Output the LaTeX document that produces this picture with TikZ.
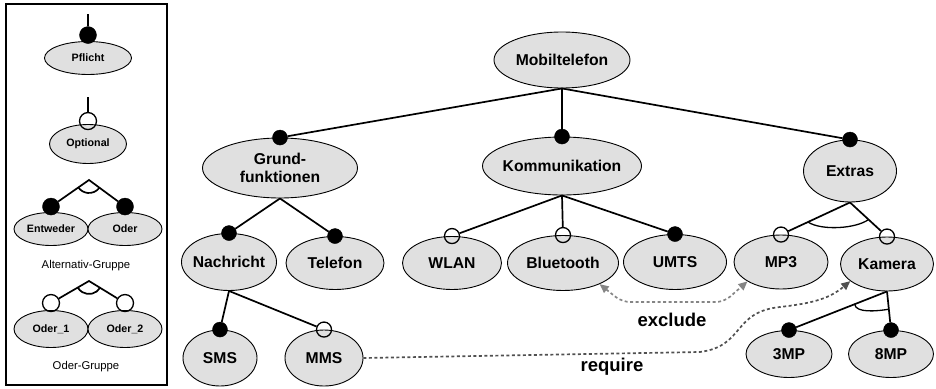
\documentclass[tikz,border=0pt]{standalone}
\usepackage{fontspec}
\setmainfont{Liberation Sans}
\usetikzlibrary{shapes.geometric,arrows.meta,calc}

\definecolor{featgray}{HTML}{E0E0E0}
\definecolor{exclgray}{HTML}{858585}
\definecolor{reqgray}{HTML}{505050}

% Kante zum Kind, Kreis oben am Kind
\newcommand{\mandlink}[2]{%
  \node[mand] (#2-m) at (#2.north) {};
  \draw[link] (#1.south) -- (#2-m);
}
\newcommand{\optlink}[2]{%
  \node[opt] (#2-m) at (#2.north) {};
  \draw[link] (#1.south) -- (#2-m);
}

\begin{document}
\begin{tikzpicture}[x=1pt,y=-1pt,
  feature/.style={ellipse,draw,line width=0.9pt,fill=featgray,inner sep=0pt,inner xsep=-5pt,align=center,font=\fontsize{15.7}{18}\selectfont\bfseries},
  legfeat/.style={feature,font=\fontsize{10.7}{12}\selectfont\bfseries},
  mand/.style={circle,draw,fill=black,inner sep=0pt,minimum size=15pt},
  opt/.style={circle,draw,line width=1.3pt,inner sep=0pt,minimum size=15pt},
  link/.style={line width=1.7pt},
  cst/.style={line width=1.7pt,dash pattern=on 3pt off 2.5pt},
  cstlabel/.style={font=\fontsize{18.5}{20}\selectfont\bfseries},
  grplabel/.style={font=\fontsize{11.3}{13}\selectfont}]

\useasboundingbox (0,0) rectangle (936,388);

% Legende
\draw[line width=1.4pt] (6,4) rectangle (167,385);

\node[legfeat,minimum width=87pt,minimum height=33pt] (pflicht) at (88,58) {Pflicht};
\node[mand,minimum size=17pt] (pflicht-m) at ([yshift=6pt]pflicht.north) {};
\coordinate (pflicht-s) at (88,14);
\draw[link] (pflicht-s) -- (pflicht-m);

\node[legfeat,minimum width=77pt,minimum height=39pt] (optional) at (88,144) {Optional};
\node[opt,minimum size=17pt] (optional-m) at ([yshift=3pt]optional.north) {};
\coordinate (optional-s) at (88,97);
\draw[link] (optional-s) -- (optional-m);

% Alternativ
\coordinate (alt) at (89,180);
\node[legfeat,minimum width=74pt,minimum height=33pt] (entweder) at (51,229) {Entweder};
\node[legfeat,minimum width=74pt,minimum height=33pt] (oder) at (125,229) {Oder};
\node[mand,minimum size=17pt] (entweder-m) at ([yshift=5.5pt]entweder.north) {};
\node[mand,minimum size=17pt] (oder-m) at ([yshift=5.5pt]oder.north) {};
\draw[link] (entweder-m) -- (alt) -- (oder-m);
\draw[link] ($(alt)+(36:13)$) arc[start angle=36,end angle=144,radius=13];
\node[grplabel] (altlabel) at (86,266) {Alternativ-Gruppe};

% Oder
\coordinate (orgrp) at (89,281);
\node[legfeat,minimum width=74pt,minimum height=37pt] (oder1) at (51,329) {Oder\_1};
\node[legfeat,minimum width=74pt,minimum height=37pt] (oder2) at (125,329) {Oder\_2};
\node[opt,minimum size=17pt] (oder1-m) at ([yshift=7pt]oder1.north) {};
\node[opt,minimum size=17pt] (oder2-m) at ([yshift=7pt]oder2.north) {};
\draw[link] (oder1-m) -- (orgrp) -- (oder2-m);
\draw[link] ($(orgrp)+(31:13)$) arc[start angle=31,end angle=149,radius=13];
\node[grplabel] (orlabel) at (86,367) {Oder-Gruppe};

% Merkmale
\node[feature,minimum width=136pt,minimum height=56pt] (mobil) at (562,60) {Mobiltelefon};
\node[feature,minimum width=155pt,minimum height=60pt] (grund) at (280,168) {Grund-\\funktionen};
\node[feature,minimum width=159pt,minimum height=58pt] (komm) at (562,166) {Kommunikation};
\node[feature,minimum width=93pt,minimum height=62pt] (extras) at (850,171) {Extras};
\node[feature,minimum width=95pt,minimum height=57pt] (nachricht) at (229,262) {Nachricht};
\node[feature,minimum width=98pt,minimum height=53pt] (telefon) at (335,263) {Telefon};
\node[feature,minimum width=99pt,minimum height=53pt] (wlan) at (452,263) {WLAN};
\node[feature,minimum width=111pt,minimum height=55pt] (bt) at (563,263) {Bluetooth};
\node[feature,minimum width=103pt,minimum height=55pt] (umts) at (675,262) {UMTS};
\node[feature,minimum width=94pt,minimum height=54pt] (mp3) at (781,262) {MP3};
\node[feature,minimum width=93pt,minimum height=54pt] (kamera) at (887,264) {Kamera};
\node[feature,minimum width=86pt,minimum height=47pt] (drei) at (789,354) {3MP};
\node[feature,minimum width=85pt,minimum height=47pt] (acht) at (891,354) {8MP};
\node[feature,minimum width=74pt,minimum height=56pt] (sms) at (220,358) {SMS};
\node[feature,minimum width=78pt,minimum height=56pt] (mms) at (324,358) {MMS};

\mandlink{mobil}{grund}
\mandlink{mobil}{komm}
\mandlink{mobil}{extras}
\mandlink{grund}{nachricht}
\mandlink{grund}{telefon}
\optlink{komm}{wlan}
\optlink{komm}{bt}
\mandlink{komm}{umts}
\optlink{extras}{mp3}
\optlink{extras}{kamera}
\mandlink{nachricht}{sms}
\optlink{nachricht}{mms}
\mandlink{kamera}{drei}
\mandlink{kamera}{acht}

% Gruppenboegen
\draw[line width=1.3pt] ($(extras.south)!0.61!(mp3-m)$) .. controls +(14,9) and +(-12,9) .. ($(extras.south)!0.5!(kamera-m)$);
\draw[line width=1.3pt] ($(kamera.south)!0.33!(drei-m)$) .. controls +(1,9) and +(-12,2) .. ($(kamera.south)!0.46!(acht-m)$);

% exclude / require
\draw[cst,exclgray,{Triangle[length=9pt,width=8pt]}-{Triangle[length=9pt,width=8pt]},rounded corners=8pt] (bt.-30) -- (622,302) -- (724,302) -- (mp3.210);
\node[cstlabel] (exclude) at (672,320) {exclude};

\draw[cst,reqgray,-{Triangle[length=9pt,width=8pt]}] (mms.east) -- (700,352) .. controls (745,346) and (732,312) .. (780,307) .. controls (815,303) and (830,298) .. (kamera.205);
\node[cstlabel] (require) at (612,367) {require};

\end{tikzpicture}
\end{document}
